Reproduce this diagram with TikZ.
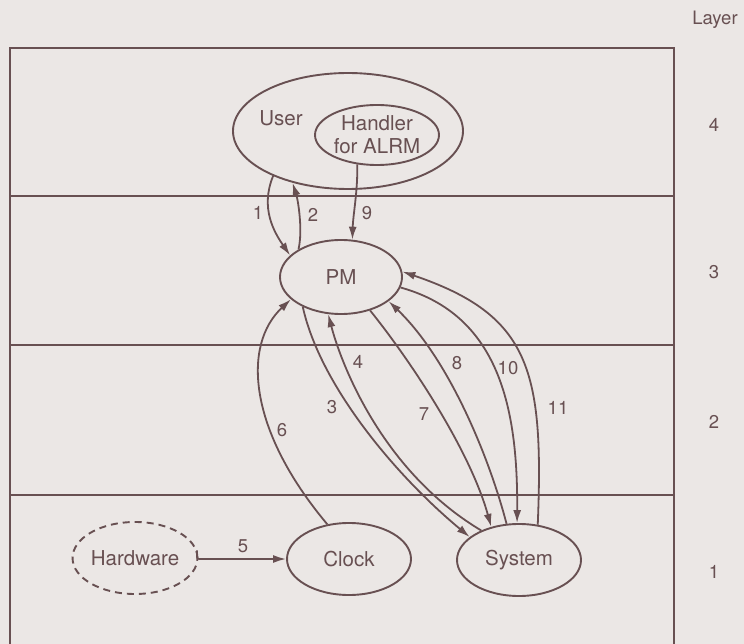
\documentclass[tikz,border=0pt]{standalone}
\usepackage{fontspec}
\setmainfont{TeX Gyre Heros}
\usetikzlibrary{shapes.geometric,arrows.meta}
\definecolor{ink}{RGB}{104,80,82}
\definecolor{paper}{RGB}{235,231,229}
\begin{document}
\begin{tikzpicture}[x=1pt,y=-1pt,
  every node/.style={text=ink},
  oval/.style={ellipse,draw=ink,line width=1.9pt,inner sep=0pt},
  conn/.style={draw=ink,line width=1.8pt,-{Latex[length=13pt,width=8pt]}},
  plain/.style={draw=ink,line width=1.7pt},
  big/.style={font=\fontsize{20.5}{23}\selectfont},
  num/.style={font=\fontsize{18.5}{21}\selectfont}]
\fill[paper] (0,0) rectangle (744,644);
\useasboundingbox (0,0) rectangle (744,644);
% frame and layer separators
\draw[plain] (10,644) -- (10,48) -- (674,48) -- (674,644);
\draw[plain] (10,196) -- (674,196);
\draw[plain] (10,345) -- (674,345);
\draw[plain] (10,495) -- (674,495);
% layer labels
\node[num] (layer) at (715,20) {Layer};
\node[num] (l4) at (714,125) {4};
\node[num] (l3) at (714,272) {3};
\node[num] (l2) at (714,422) {2};
\node[num] (l1) at (714,572) {1};
% nodes
\node[oval,minimum width=230,minimum height=116] (user) at (348,131) {};
\node[big] (usert) at (281,118) {User};
\node[oval,minimum width=124,minimum height=60,align=center,big] (hand) at (377,135) {Handler\\for ALRM};
\node[oval,minimum width=122,minimum height=74,big] (pm) at (341,277) {PM};
\node[oval,dash pattern=on 7pt off 5pt,minimum width=124,minimum height=72,big] (hw) at (135,558) {Hardware};
\node[oval,minimum width=124,minimum height=72,big] (clock) at (349,559) {Clock};
\node[oval,minimum width=124,minimum height=72,big] (sys) at (519,560) {System};
% connectors
\draw[conn] (user.211) .. controls (260,208) and (274,232) .. (pm.157);
\draw[conn] (pm.147) .. controls (303,230) and (298,200) .. (user.223);
\draw[conn] (hand.236) .. controls (358,190) and (353,215) .. (pm.73);
\draw[conn] (clock.122) .. controls (248,430) and (242,345) .. (pm.204);
\draw[conn] (pm.218) .. controls (320,385) and (395,475) .. (sys.155);
\draw[conn] (sys.142) .. controls (380,470) and (340,360) .. (pm.251);
\draw[conn] (pm.311) .. controls (410,360) and (470,450) .. (sys.130);
\draw[conn] (sys.109) .. controls (490,460) and (450,360) .. (pm.333);
\draw[conn] (pm.350) .. controls (500,315) and (518,410) .. (sys.93);
\draw[conn] (sys.62) .. controls (544,370) and (530,315) .. (pm.5);
\draw[conn,rounded corners=2pt] (hw.7) |- (clock.west);
% connector labels
\node[num] (n1) at (258,213) {1};
\node[num] (n2) at (313,215) {2};
\node[num] (n9) at (367,213) {9};
\node[num] (n6) at (282,430) {6};
\node[num] (n3) at (332,407) {3};
\node[num] (n4) at (358,362) {4};
\node[num] (n7) at (424,414) {7};
\node[num] (n8) at (457,363) {8};
\node[num] (n10) at (508,368) {10};
\node[num] (n11) at (558,408) {11};
\node[num] (n5) at (243,546) {5};
\end{tikzpicture}
\end{document}
